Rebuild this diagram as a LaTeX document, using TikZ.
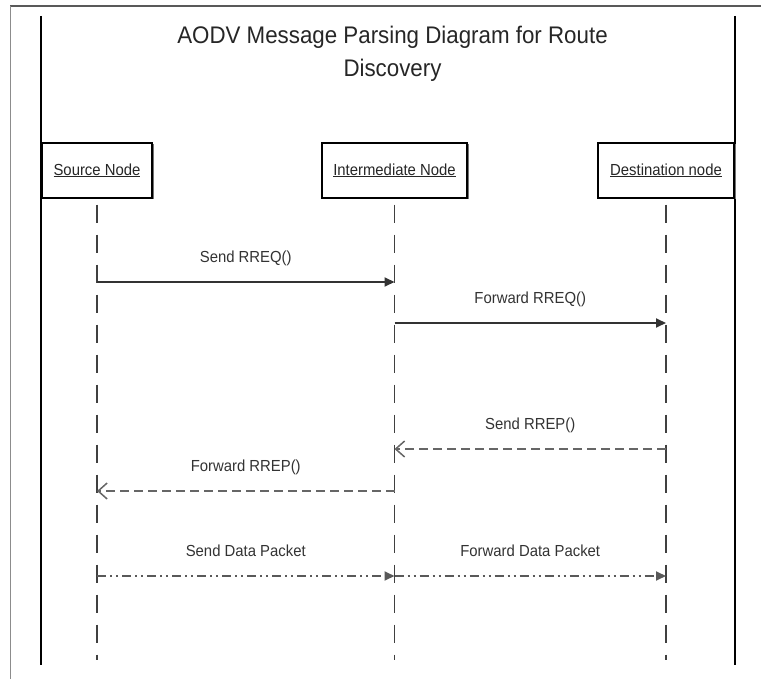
\documentclass[tikz,border=0pt]{standalone}
\usepackage{fontspec}
\setmainfont{Liberation Sans}[FakeStretch=0.93]
\usetikzlibrary{arrows.meta,shadows}

% underlined header text with a slightly heavier rule
\newcommand\ulined[1]{\setbox0\hbox{#1}\leavevmode\rlap{\rule[-2.2pt]{\wd0}{1.1pt}}\box0}

\begin{document}
\begin{tikzpicture}[x=1pt,y=-1pt,
  lifebox/.style={draw=black, line width=1.2pt, fill=white, minimum height=55pt,
    inner sep=0pt, font=\fontsize{16}{19}\selectfont, text=black!85,
    drop shadow={shadow xshift=1.5pt, shadow yshift=-1.5pt, fill=black!55, opacity=1}},
  lifeline/.style={draw=black!75, line width=1.5pt, dash pattern=on 18pt off 12pt},
  msglabel/.style={font=\fontsize{16}{19}\selectfont, text=black!80, inner sep=0pt},
  callmsg/.style={draw=black!80, line width=1.8pt, -{Triangle[length=10pt,width=9pt]}},
  replymsg/.style={draw=black!60, line width=2.2pt, dash pattern=on 9pt off 5pt,
    -{Straight Barb[length=9pt,width=16pt,line width=1.5pt]}},
  datamsg/.style={draw=black!65, line width=1.8pt,
    dash pattern=on 9pt off 4pt on 2pt off 4pt on 2pt off 4pt,
    -{Triangle[length=10pt,width=9pt]}},
]
\useasboundingbox (0,0) rectangle (761,679);

% page frame
\draw[black!65, line width=2pt] (10,6) -- (761,6);
\draw[black!45, line width=1pt] (10,6) -- (10,679);
\draw[black, line width=1.6pt] (41,16) -- (41,665);
\draw[black, line width=1.6pt] (735,16) -- (735,665);

% title
\node[align=center, font=\fontsize{24}{33}\selectfont, text=black!85, inner sep=0pt]
  (title) at (392.5,54) {AODV Message Parsing Diagram for Route\\Discovery};

% participants
\node[lifebox, minimum width=110pt] (src) at (97,170.5) {\ulined{Source Node}};
\node[lifebox, minimum width=145pt] (mid) at (394.5,170.5) {\ulined{Intermediate Node}};
\node[lifebox, minimum width=136pt] (dst) at (666,170.5) {\ulined{Destination node}};

% lifelines
\foreach \p in {src,mid,dst}
  \draw[lifeline] ([yshift=-6pt]\p.south) -- (\p.south |- 0,660);

% route request
\draw[callmsg] (src.south |- 0,282) -- (mid.south |- 0,282)
  node[msglabel, midway, yshift=24pt] {Send RREQ()};
\draw[callmsg] (mid.south |- 0,323) -- (dst.south |- 0,323)
  node[msglabel, midway, yshift=24pt] {Forward RREQ()};

% route reply
\draw[replymsg] (dst.south |- 0,449) -- (mid.south |- 0,449)
  node[msglabel, midway, yshift=24pt] {Send RREP()};
\draw[replymsg] (mid.south |- 0,491) -- (src.south |- 0,491)
  node[msglabel, midway, yshift=24pt] {Forward RREP()};

% data transfer
\draw[datamsg] (src.south |- 0,576) -- (mid.south |- 0,576)
  node[msglabel, midway, yshift=25pt] {Send Data Packet};
\draw[datamsg] (mid.south |- 0,576) -- (dst.south |- 0,576)
  node[msglabel, midway, yshift=25pt] {Forward Data Packet};
\end{tikzpicture}
\end{document}
